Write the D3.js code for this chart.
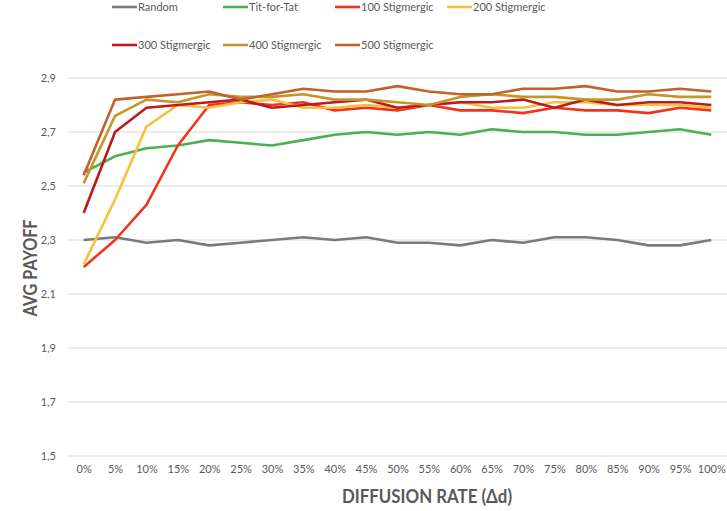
<!DOCTYPE html>
<html><head><meta charset="utf-8">
<script src="https://cdn.jsdelivr.net/npm/d3@7"></script>
<style>body{margin:0;background:#fff}svg{display:block}</style>
</head><body><svg id="c" width="727" height="511"></svg>
<script>
const categories = ["0%","5%","10%","15%","20%","25%","30%","35%","40%","45%","50%","55%","60%","65%","70%","75%","80%","85%","90%","95%","100%"];
const yTicks = [1.5,1.7,1.9,2.1,2.3,2.5,2.7,2.9];
const seriesNames = ["Random","Tit-for-Tat","100 Stigmergic","200 Stigmergic","300 Stigmergic","400 Stigmergic","500 Stigmergic"];
const seriesColors = ["#7a7a7a","#4cb050","#f2331f","#fbbf3c","#b91c1c","#c4962a","#c0622a"];
const random   = [2.30,2.31,2.29,2.30,2.28,2.29,2.30,2.31,2.30,2.31,2.29,2.29,2.28,2.30,2.29,2.31,2.31,2.30,2.28,2.28,2.30];
const titForTat= [2.55,2.61,2.64,2.65,2.67,2.66,2.65,2.67,2.69,2.70,2.69,2.70,2.69,2.71,2.70,2.70,2.69,2.69,2.70,2.71,2.69];
const stig100  = [2.20,2.30,2.43,2.65,2.80,2.81,2.80,2.81,2.78,2.79,2.78,2.80,2.78,2.78,2.77,2.79,2.78,2.78,2.77,2.79,2.78];
const stig200  = [2.21,2.45,2.72,2.80,2.79,2.81,2.82,2.79,2.79,2.80,2.79,2.80,2.81,2.79,2.79,2.81,2.81,2.80,2.80,2.80,2.79];
const stig300  = [2.40,2.70,2.79,2.80,2.81,2.82,2.79,2.80,2.81,2.82,2.79,2.80,2.81,2.81,2.82,2.79,2.82,2.80,2.81,2.81,2.80];
const stig400  = [2.51,2.76,2.82,2.81,2.84,2.83,2.83,2.84,2.82,2.82,2.81,2.80,2.83,2.84,2.83,2.83,2.82,2.82,2.84,2.83,2.83];
const stig500  = [2.54,2.82,2.83,2.84,2.85,2.82,2.84,2.86,2.85,2.85,2.87,2.85,2.84,2.84,2.86,2.86,2.87,2.85,2.85,2.86,2.85];
const allSeries = [random,titForTat,stig100,stig200,stig300,stig400,stig500];

(function () {
const svg = d3.select("#c");
const font = "Lato, 'Open Sans', sans-serif";
const mLeft = 68, mRight = 727, mTop = 78, mBottom = 456;
const x = d3.scalePoint().domain(categories).range([mLeft, mRight]).padding(0.5);
const y = d3.scaleLinear().domain([1.5, 2.9]).range([mBottom, mTop]);

// gridlines
svg.append("g").selectAll("line").data(yTicks).join("line")
  .attr("x1", mLeft).attr("x2", mRight)
  .attr("y1", d => y(d)).attr("y2", d => y(d))
  .attr("stroke", "#d9d9d9").attr("stroke-width", 1);

// y axis labels
const fmt = d => d.toFixed(1).replace(".", ",");
const ya = svg.append("g").attr("transform", `translate(${mLeft},0)`)
  .call(d3.axisLeft(y).tickValues(yTicks).tickFormat(fmt).tickSize(0).tickPadding(12));
ya.select(".domain").remove();
ya.selectAll("text").attr("font-family", font).attr("font-size", 11).attr("fill", "#595959");

// x axis labels
const xa = svg.append("g").attr("transform", `translate(0,${mBottom})`)
  .call(d3.axisBottom(x).tickSize(0).tickPadding(9));
xa.select(".domain").remove();
xa.selectAll("text").attr("font-family", font).attr("font-size", 11).attr("fill", "#595959");

// lines
const line = d3.line().x((d, i) => x(categories[i])).y(d => y(d));
svg.append("g").selectAll("path").data(allSeries).join("path")
  .attr("d", line).attr("fill", "none")
  .attr("stroke", (d, i) => seriesColors[i]).attr("stroke-width", 2.6)
  .attr("stroke-linejoin", "round");

// legend
const legPos = [[112,7],[223,7],[335,7],[447,7],[112,45],[223,45],[335,45]];
const lg = svg.append("g").selectAll("g").data(seriesNames).join("g")
  .attr("transform", (d, i) => `translate(${legPos[i][0]},${legPos[i][1]})`);
lg.append("line").attr("x1", 0).attr("x2", 25).attr("y1", 0).attr("y2", 0)
  .attr("stroke", (d, i) => seriesColors[i]).attr("stroke-width", 2.6);
lg.append("text").attr("x", 26).attr("y", 0).attr("dy", "0.35em")
  .attr("font-family", font).attr("font-size", 11).attr("fill", "#595959").text(d => d);

// axis titles
svg.append("text").attr("transform", `translate(30,268) rotate(-90)`)
  .attr("text-anchor", "middle").attr("dy", "0.35em")
  .attr("textLength", 97).attr("lengthAdjust", "spacingAndGlyphs")
  .attr("font-family", font).attr("font-size", 19).attr("font-weight", "bold").attr("fill", "#595959")
  .text("AVG PAYOFF");
svg.append("text").attr("x", 427).attr("y", 503)
  .attr("text-anchor", "middle")
  .attr("textLength", 170).attr("lengthAdjust", "spacingAndGlyphs")
  .attr("font-family", font).attr("font-size", 19).attr("font-weight", "bold").attr("fill", "#595959")
  .text("DIFFUSION RATE (Δd)");
})();
</script></body></html>
